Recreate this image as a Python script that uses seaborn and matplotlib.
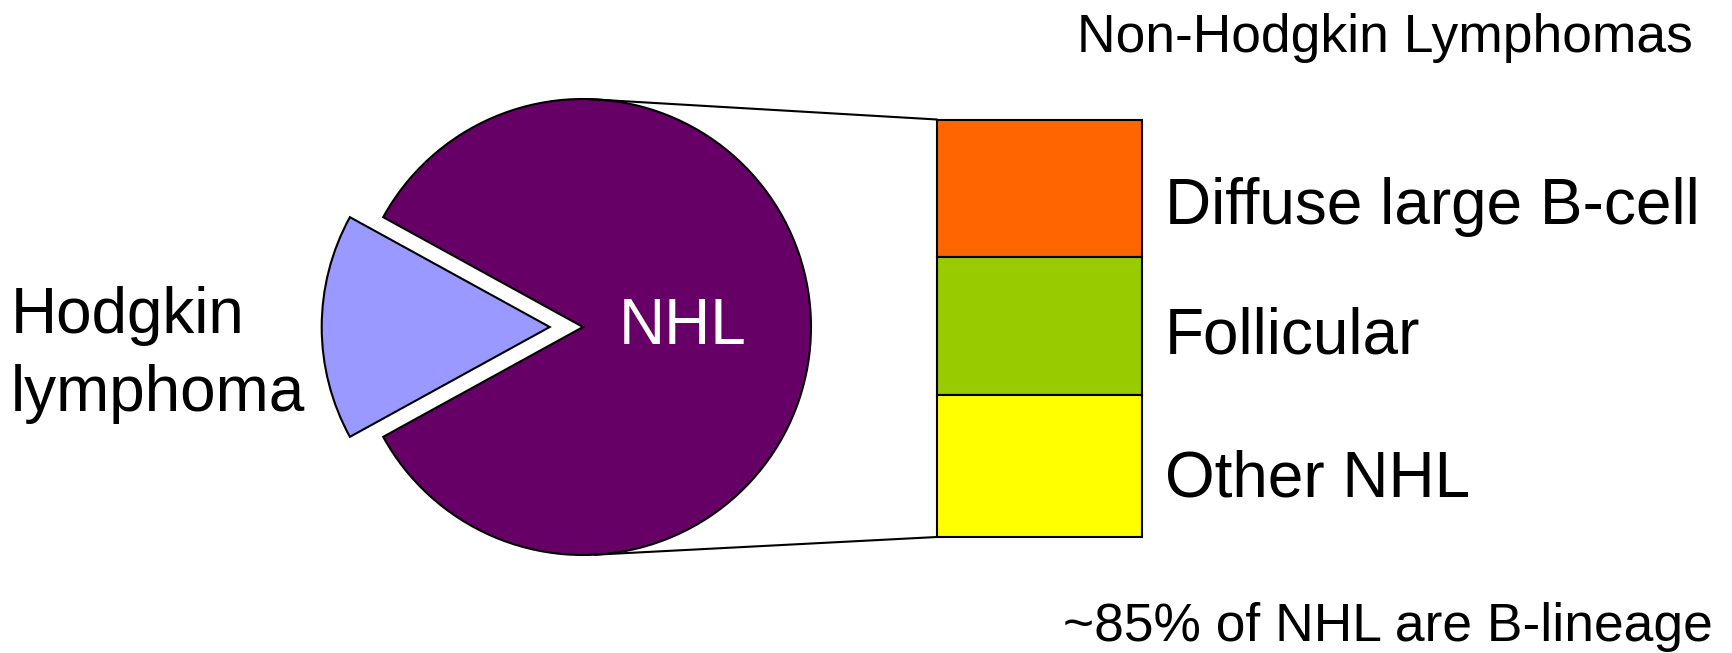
import numpy as np
import matplotlib
matplotlib.use("Agg")
import matplotlib.pyplot as plt
import seaborn as sns

# ---- data ----
pie_labels = ["Hodgkin\nlymphoma", "NHL"]
pie_values = [16, 84]
pie_colors = ["#9999FF", "#660066"]

nhl_labels = ["Diffuse large B-cell", "Follicular", "Other NHL"]
nhl_values = [33, 33, 34]
nhl_colors = ["#FF6600", "#99CC00", "#FFFF00"]

title_text = "Non-Hodgkin Lymphomas"
note_text = "~85% of NHL are B-lineage"

sns.set_theme(style="white")
plt.rcParams["font.family"] = ["Liberation Sans", "DejaVu Sans"]
plt.rcParams["text.color"] = "black"

W, H = 1733, 653
fig = plt.figure(figsize=(W / 100, H / 100), dpi=100)
ax = fig.add_axes([0, 0, 1, 1])

# pie (pixel coordinates, y axis downward)
cx, cy, R = 583, 327, 228
hod_frac = pie_values[0] / sum(pie_values)
start = 180 - hod_frac * 360 / 2
wedges, _ = ax.pie(pie_values, colors=pie_colors, startangle=start,
                   center=(cx, cy), radius=R, explode=[0.146 * R, 0],
                   wedgeprops=dict(edgecolor="black", linewidth=1.5))

# stacked bar of NHL subtypes
bx, bw, btop, bh = 937, 205, 119.5, 417.5
scale = bh / sum(nhl_values)
bottom = btop
centers = []
for lab, v, c in zip(nhl_labels, nhl_values, nhl_colors):
    h = v * scale
    ax.bar(bx, h, width=bw, bottom=bottom, align="edge", color=c,
           edgecolor="black", linewidth=1.5, zorder=3)
    centers.append(bottom + h / 2)
    bottom += h

offs = [19, 10, 13]
for lab, yc, o in zip(nhl_labels, centers, offs):
    ax.text(1165, yc + o, lab, fontsize=46, ha="left", va="center", color="black")

# connecting lines
a_top, a_bot = np.deg2rad(89), np.deg2rad(87)
ax.plot([cx + R * np.cos(a_top), bx], [cy - R * np.sin(a_top), btop],
        color="black", lw=1.5, zorder=2)
ax.plot([cx + R * np.cos(a_bot), bx], [cy + R * np.sin(a_bot), btop + bh],
        color="black", lw=1.5, zorder=2)

# pie labels
ax.text(cx + 100, cy, pie_labels[1], fontsize=46, color="white",
        ha="center", va="center")
ax.text(11, cy + 28, pie_labels[0], fontsize=46, color="black",
        ha="left", va="center", linespacing=1.4)

ax.text(1693, 52, title_text, fontsize=38.4, ha="right", va="baseline", color="black")
ax.text(1713, 641, note_text, fontsize=38.4, ha="right", va="baseline", color="black")

ax.set_xlim(0, W)
ax.set_ylim(H, 0)
ax.set_aspect("equal")
ax.axis("off")

fig.savefig("out.png", dpi=100, facecolor="white")
